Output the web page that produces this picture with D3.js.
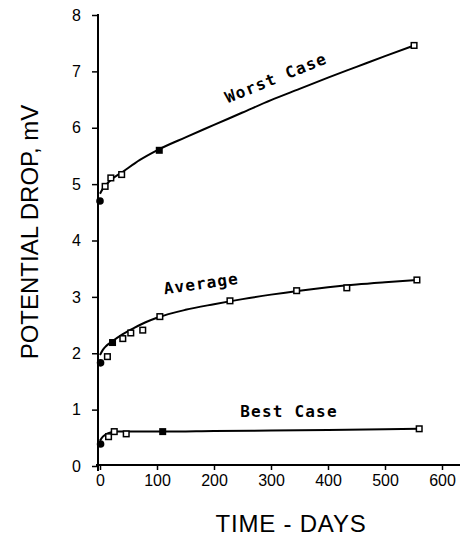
<!doctype html>
<html lang="en">
<head>
  <meta charset="UTF-8">
  <title>Potential drop vs time</title>
  <script src="https://cdn.jsdelivr.net/npm/d3@7"></script>
  <style>
    body { margin: 0; background: #fff; }
    .tick text { font-family: "Liberation Sans", Arial, sans-serif; font-size: 16px; fill: #000; }
    .tick line { stroke: #000; stroke-width: 1.5; }
    .title { font-family: "Liberation Sans", Arial, sans-serif; font-size: 24px; fill: #000; }
    .clabel { font-family: "DejaVu Sans Mono", monospace; font-weight: bold; font-size: 16px; letter-spacing: 1.2px; fill: #000; }
  </style>
</head>
<body>
<div id="container"></div>
<script type="text/javascript">
// measured points (days, mV) and marker kind
var worstT = [0, 9, 19, 38, 104, 551];
var worstV = [4.70, 4.96, 5.11, 5.17, 5.60, 7.46];
var worstKind = ['dot', 'open', 'open', 'open', 'solid', 'open'];

var avgT = [1, 13, 22, 40, 54, 75, 105, 228, 345, 433, 556];
var avgV = [1.83, 1.94, 2.19, 2.26, 2.36, 2.41, 2.65, 2.93, 3.11, 3.16, 3.30];
var avgKind = ['dot', 'open', 'solid', 'open', 'open', 'open', 'open', 'open', 'open', 'open', 'open'];

var bestT = [1, 15, 25, 46, 110, 560];
var bestV = [0.39, 0.52, 0.61, 0.57, 0.61, 0.66];
var bestKind = ['dot', 'open', 'open', 'open', 'solid', 'open'];

// fitted curves
var worstCurveT = [0, 5, 10, 20, 40, 70, 100, 150, 200, 250, 300, 350, 400, 450, 500, 551];
var worstCurveV = [4.83, 4.92, 4.98, 5.08, 5.22, 5.43, 5.60, 5.83, 6.05, 6.27, 6.49, 6.69, 6.89, 7.08, 7.27, 7.46];

var avgCurveT = [0, 5, 10, 20, 40, 60, 80, 100, 150, 200, 250, 300, 350, 400, 450, 500, 556];
var avgCurveV = [1.97, 2.06, 2.12, 2.20, 2.34, 2.45, 2.55, 2.63, 2.77, 2.87, 2.96, 3.04, 3.11, 3.17, 3.22, 3.26, 3.30];

var bestCurveT = [0, 5, 10, 20, 30, 60, 110, 200, 300, 400, 500, 560];
var bestCurveV = [0.45, 0.52, 0.56, 0.60, 0.61, 0.61, 0.61, 0.62, 0.63, 0.64, 0.65, 0.66];

var xTicks = [0, 100, 200, 300, 400, 500, 600];
var yTicks = [0, 1, 2, 3, 4, 5, 6, 7, 8];

var labels = ['Worst Case', 'Average', 'Best Case'];

var svg = d3.select('#container').append('svg')
  .attr('width', 460)
  .attr('height', 540);

var x = d3.scaleLinear().domain([0, 600]).range([100, 442]);
var y = d3.scaleLinear().domain([0, 8]).range([466, 15]);

// axes
var yAxis = svg.append('g')
  .attr('transform', 'translate(98,0)')
  .call(d3.axisLeft(y).tickValues(yTicks).tickSize(6).tickPadding(11).tickSizeOuter(0));
yAxis.select('.domain').remove();

var xAxis = svg.append('g')
  .attr('transform', 'translate(0,465)')
  .call(d3.axisBottom(x).tickValues(xTicks).tickSize(5).tickPadding(5).tickSizeOuter(0));
xAxis.select('.domain').remove();

svg.append('line')
  .attr('x1', 98).attr('x2', 98).attr('y1', 14).attr('y2', 471)
  .attr('stroke', '#000').attr('stroke-width', 2);
svg.append('line')
  .attr('x1', 96).attr('x2', 460).attr('y1', 465).attr('y2', 465)
  .attr('stroke', '#000').attr('stroke-width', 2);

// curves
var line = d3.line()
  .x(function(d) { return x(d[0]); })
  .y(function(d) { return y(d[1]); })
  .curve(d3.curveMonotoneX);

function zip(a, b) { return a.map(function(v, i) { return [v, b[i]]; }); }

[[worstCurveT, worstCurveV], [avgCurveT, avgCurveV], [bestCurveT, bestCurveV]].forEach(function(c) {
  svg.append('path')
    .datum(zip(c[0], c[1]))
    .attr('d', line)
    .attr('fill', 'none')
    .attr('stroke', '#000')
    .attr('stroke-width', 2);
});

// markers
function drawPoints(ts, vs, kinds) {
  ts.forEach(function(t, i) {
    var cx = x(t), cy = y(vs[i]);
    if (kinds[i] == 'dot') {
      svg.append('circle').attr('cx', cx).attr('cy', cy).attr('r', 3.8).attr('fill', '#000');
    } else if (kinds[i] == 'solid') {
      svg.append('rect').attr('x', cx - 3.5).attr('y', cy - 3.5).attr('width', 7).attr('height', 7)
        .attr('fill', '#000');
    } else {
      svg.append('rect').attr('x', cx - 2.8).attr('y', cy - 2.8).attr('width', 5.6).attr('height', 5.6)
        .attr('fill', '#fff').attr('stroke', '#000').attr('stroke-width', 1.5);
    }
  });
}
drawPoints(worstT, worstV, worstKind);
drawPoints(avgT, avgV, avgKind);
drawPoints(bestT, bestV, bestKind);

// curve labels
svg.append('text').attr('class', 'clabel').attr('text-anchor', 'middle')
  .attr('transform', 'translate(278,83) rotate(-22)').text(labels[0]);
svg.append('text').attr('class', 'clabel').attr('text-anchor', 'middle')
  .attr('transform', 'translate(202,289) rotate(-8)').text(labels[1]);
svg.append('text').attr('class', 'clabel').attr('text-anchor', 'middle')
  .attr('transform', 'translate(289,417)').text(labels[2]);

// axis titles
svg.append('text').attr('class', 'title').attr('text-anchor', 'middle')
  .attr('transform', 'translate(38,232) rotate(-90)')
  .text('POTENTIAL DROP, mV');
svg.append('text').attr('class', 'title').attr('text-anchor', 'middle')
  .attr('x', 291).attr('y', 532).attr('letter-spacing', '0.8px')
  .text('TIME - DAYS');
</script>
</body>
</html>
